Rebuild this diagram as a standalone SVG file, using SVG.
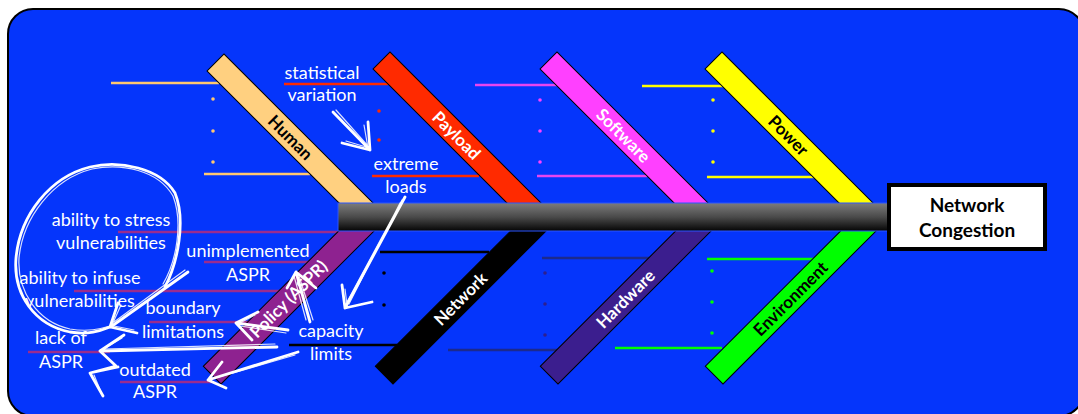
<svg xmlns="http://www.w3.org/2000/svg" width="1078" height="414" viewBox="0 0 1078 414">
<defs>
<linearGradient id="spineGrad" x1="0" y1="0" x2="0" y2="1">
<stop offset="0" stop-color="#7c7c7c"/>
<stop offset="0.5" stop-color="#4a4a4a"/>
<stop offset="1" stop-color="#050505"/>
</linearGradient>
<style>
.lbl{font-family:Lato,"Liberation Sans",sans-serif;font-size:18px;fill:#fff;text-anchor:middle}
.bl{font-family:Lato,"Liberation Sans",sans-serif;font-weight:bold;font-size:17px;text-anchor:middle}
.bar{stroke:#000;stroke-width:1}
.rib{stroke-width:2.5;fill:none}
.sk{stroke:#fff;fill:none;stroke-width:2.8;stroke-linecap:round;stroke-linejoin:round}
.sk2{stroke:#fff;fill:none;stroke-width:1.2;stroke-linecap:round;stroke-linejoin:round;opacity:.85}
</style>
</defs>
<rect x="8" y="9" width="1076" height="407" rx="25" ry="25" fill="#0535fb" stroke="#000" stroke-width="2"/>

<g id="bone-human">
<line class="rib" x1="111" y1="83" x2="219" y2="83" stroke="#ffc870"/>
<line class="rib" x1="204" y1="174" x2="310" y2="174" stroke="#ffc870"/>
<g fill="#ffc870"><circle cx="213" cy="99" r="1.8"/><circle cx="213" cy="131" r="1.8"/><circle cx="213" cy="162" r="1.8"/></g>
<g transform="translate(224,54) rotate(45)"><rect class="bar" width="225" height="24" fill="#ffd080"/><text class="bl" x="106" y="12" dy=".36em" fill="#000">Human</text></g>
</g>
<g id="bone-payload">
<line class="rib" x1="284" y1="84" x2="388" y2="84" stroke="#ff2a00"/>
<line class="rib" x1="372" y1="176" x2="479" y2="176" stroke="#ff2a00"/>
<g fill="#ff2a00"><circle cx="379" cy="111" r="1.8"/><circle cx="379" cy="140" r="1.8"/></g>
<g transform="translate(390,52) rotate(45)"><rect class="bar" width="225" height="24" fill="#ff2a00"/><text class="bl" x="106" y="12" dy=".36em" fill="#fff">Payload</text></g>
</g>
<g id="bone-software">
<line class="rib" x1="475" y1="85" x2="580" y2="85" stroke="#e845f0"/>
<line class="rib" x1="537" y1="176" x2="647" y2="176" stroke="#e845f0"/>
<g fill="#ff40ff"><circle cx="540" cy="100" r="1.8"/><circle cx="540" cy="131" r="1.8"/><circle cx="540" cy="162" r="1.8"/></g>
<g transform="translate(557,52) rotate(45)"><rect class="bar" width="225" height="24" fill="#ff40ff"/><text class="bl" x="106" y="12" dy=".36em" fill="#fff">Software</text></g>
</g>
<g id="bone-power">
<line class="rib" x1="642" y1="86" x2="740" y2="86" stroke="#ffff00"/>
<line class="rib" x1="707" y1="177" x2="814" y2="177" stroke="#ffff00"/>
<g fill="#ffff00"><circle cx="713" cy="100" r="1.8"/><circle cx="713" cy="131" r="1.8"/><circle cx="713" cy="162" r="1.8"/></g>
<g transform="translate(722,52) rotate(45)"><rect class="bar" width="225" height="24" fill="#ffff00"/><text class="bl" x="106" y="12" dy=".36em" fill="#000">Power</text></g>
</g>

<g id="bone-policy">
<g stroke="#9b2c8e" class="rib">
<line x1="118" y1="232" x2="339" y2="232"/>
<line x1="204" y1="262" x2="309" y2="262"/>
<line x1="74" y1="291" x2="282" y2="291"/>
<line x1="149" y1="322" x2="249" y2="322"/>
<line x1="28" y1="352" x2="110" y2="352"/>
<line x1="120" y1="382" x2="212" y2="382"/>
</g>
<g transform="translate(221,384) rotate(-45)"><rect class="bar" y="-25" width="225" height="25" fill="#8e2290"/><text class="bl" x="108" y="-12.5" dy=".36em" fill="#fff">Policy (ASPR)</text></g>
</g>
<g id="bone-network">
<line class="rib" x1="380" y1="252" x2="489" y2="252" stroke="#000"/>
<line class="rib" x1="289" y1="345" x2="397" y2="345" stroke="#000"/>
<g fill="#000"><circle cx="384" cy="273" r="1.8"/><circle cx="384" cy="305" r="1.8"/></g>
<g transform="translate(393,384) rotate(-45)"><rect class="bar" y="-25" width="225" height="25" fill="#000"/><text class="bl" x="108" y="-12.5" dy=".36em" fill="#fff">Network</text></g>
</g>
<g id="bone-hardware">
<line class="rib" x1="542" y1="258" x2="649" y2="258" stroke="#1c2a8c"/>
<line class="rib" x1="448" y1="350" x2="557" y2="350" stroke="#1c2a8c"/>
<g fill="#2e1f8e"><circle cx="545" cy="273" r="1.8"/><circle cx="545" cy="304" r="1.8"/><circle cx="545" cy="335" r="1.8"/></g>
<g transform="translate(558,384) rotate(-45)"><rect class="bar" y="-25" width="225" height="25" fill="#3b1e8e"/><text class="bl" x="108" y="-12.5" dy=".36em" fill="#fff">Hardware</text></g>
</g>
<g id="bone-environment">
<line class="rib" x1="707" y1="259" x2="814" y2="259" stroke="#00ff00"/>
<line class="rib" x1="615" y1="348" x2="722" y2="348" stroke="#00ff00"/>
<g fill="#00ff00"><circle cx="712" cy="271" r="1.8"/><circle cx="712" cy="302" r="1.8"/><circle cx="712" cy="333" r="1.8"/></g>
<g transform="translate(723,384) rotate(-45)"><rect class="bar" y="-25" width="225" height="25" fill="#00ff00"/><text class="bl" x="108" y="-12.5" dy=".36em" fill="#000">Environment</text></g>
</g>

<g id="spine"><rect x="338" y="203" width="551" height="28" fill="url(#spineGrad)" stroke="#2a55ff" stroke-width="1"/></g>

<g id="effect">
<rect x="889" y="185" width="156" height="64" fill="#fff" stroke="#000" stroke-width="4"/>
<text class="bl" x="967" y="212" fill="#000" style="font-size:19px">Network</text>
<text class="bl" x="967" y="237" fill="#000" style="font-size:19px">Congestion</text>
</g>

<g id="labels">
<text class="lbl" x="322" y="79">statistical</text><text class="lbl" x="322" y="101">variation</text>
<text class="lbl" x="406" y="170">extreme</text><text class="lbl" x="406" y="193">loads</text>
<text class="lbl" x="111" y="226">ability to stress</text><text class="lbl" x="111" y="249">vulnerabilities</text>
<text class="lbl" x="248" y="257">unimplemented</text><text class="lbl" x="248" y="281">ASPR</text>
<text class="lbl" x="80" y="284">ability to infuse</text><text class="lbl" x="80" y="307">vulnerabilities</text>
<text class="lbl" x="183" y="314">boundary</text><text class="lbl" x="183" y="338">limitations</text>
<text class="lbl" x="61" y="344">lack of</text><text class="lbl" x="61" y="368">ASPR</text>
<text class="lbl" x="155" y="376">outdated</text><text class="lbl" x="155" y="398">ASPR</text>
<text class="lbl" x="331" y="337">capacity</text><text class="lbl" x="331" y="360">limits</text>
</g>

<g id="connectors">
<path class="sk" d="M165,287 C178,262 186,220 175,193 C160,168 120,160 90,167 C50,177 20,215 16,258 C13,295 35,325 70,332 C88,335 100,331 110,327"/>
<path class="sk2" d="M163,284 C177,260 183,222 173,196 C158,170 122,163 92,169 C53,179 23,217 19,258 C17,292 38,322 70,329 C88,332 100,329 110,326"/>
<path class="sk" d="M118,303 L110,327 L137,333 M188,272 L112,326"/>
<path class="sk2" d="M185,270 L114,322 M121,305 L112,325 M114,326 L134,330"/>
<path class="sk" d="M333,112 L370,150 M368,122 L370,150 L342,143"/>
<path class="sk2" d="M336,110 L368,146 M364,125 L368,148 M346,141 L366,147"/>
<path class="sk" d="M405,197 L345,308 M342,285 L345,308 L372,302"/>
<path class="sk2" d="M402,200 L347,302 M400,203 L349,304 M345,289 L347,305"/>
<path class="sk" d="M310,322 L296,272 M287,288 L296,272 L316,288"/>
<path class="sk2" d="M306,320 L294,276 M313,320 L299,276"/>
<path class="sk" d="M288,330 L236,323 M258,312 L236,323 L252,340"/>
<path class="sk2" d="M286,333 L240,326 M255,315 L240,323"/>
<path class="sk" d="M277,347 L100,351 M124,335 L100,351 L116,366 L90,373 L103,396 M118,367 L90,373"/>
<path class="sk2" d="M275,344 L104,349 M122,338 L102,350 M94,375 L101,392"/>
<path class="sk" d="M298,352 L208,380 M222,362 L208,380 L226,388"/>
<path class="sk2" d="M295,355 L212,379 M220,365 L210,378"/>
</g>
</svg>
